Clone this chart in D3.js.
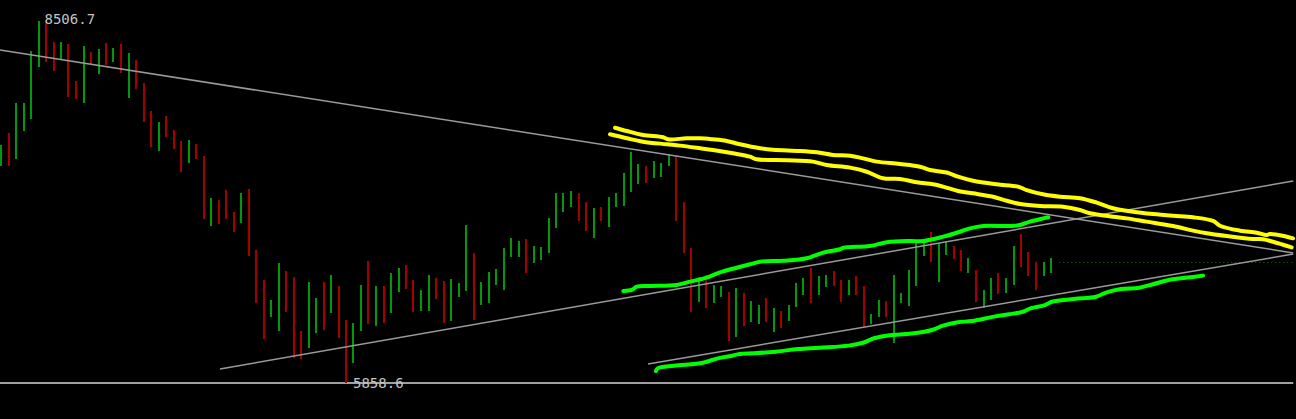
<!DOCTYPE html>
<meta charset="utf-8">
<style>

body {
  margin: 0;
  background: #000;
}

.bars line {
  stroke-width: 2px;
  shape-rendering: crispEdges;
}

.trend line {
  stroke: #9a9a9a;
  stroke-width: 1.5px;
}

.drawn path {
  fill: none;
  stroke-width: 4px;
  stroke-linejoin: round;
  stroke-linecap: round;
}

.label {
  font-family: "DejaVu Sans Mono", monospace;
  font-size: 14px;
  fill: #c4c4c4;
}

</style>


<svg class="chart" width="1296" height="419"></svg>
<script src="https://d3js.org/d3.v7.min.js"></script>
<script>

// bar highs / lows (price), one per session
var highs = [
  7599, 7687, 7907, 7907, 8287, 8506.7, 8492, 8353, 8353, 8338,
  8068, 8324, 8280, 8302, 8346, 8309, 8338, 8272, 8221, 8053,
  7848, 7768, 7812, 7709, 7629, 7636, 7607, 7519, 7212, 7197,
  7270, 7109, 7248, 7278, 6831, 6612, 6465, 6736, 6678, 6634,
  6239, 6597, 6480, 6597, 6648, 6568, 6319, 6297, 6575, 6751,
  6568, 6568, 6663, 6700, 6721, 6612, 6539, 6648, 6626, 6604,
  6619, 6590, 7014, 6809, 6597, 6670, 6692, 6846, 6919, 6897,
  6912, 6860, 6853, 7065, 7248, 7248, 7263, 7248, 7182, 7139,
  7146, 7219, 7248, 7395, 7548, 7460, 7446, 7482, 7468, 7534,
  7526, 7182, 6846, 6634, 6648, 6575, 6568, 6524, 6553, 6517,
  6458, 6429, 6480, 6407, 6385, 6429, 6590, 6626, 6700, 6641,
  6648, 6678, 6612, 6612, 6641, 6568, 6363, 6465, 6458, 6648,
  6517, 6685, 6890, 6890, 6963, 6882, 6890, 6860, 6831, 6773,
  6685, 6539, 6626, 6663, 6626, 6860, 6948, 6817, 6743, 6743, 6773
];

var lows = [
  7446, 7446, 7497, 7702, 7790, 8170, 8207, 8141, 8229, 7951,
  7936, 7907, 8192, 8119, 8185, 8207, 8126, 7943, 8009, 7768,
  7585, 7555, 7658, 7570, 7402, 7468, 7497, 7058, 7007, 7021,
  7058, 6963, 7029, 6787, 6444, 6180, 6341, 6239, 6378, 6041,
  6034, 6114, 6224, 6246, 6370, 6188, 5858.6, 6005, 6239, 6290,
  6275, 6297, 6370, 6524, 6546, 6378, 6385, 6385, 6473, 6297,
  6312, 6487, 6531, 6319, 6429, 6444, 6575, 6539, 6780, 6780,
  6663, 6736, 6758, 6809, 6992, 7109, 7146, 7043, 6970, 6919,
  7043, 7000, 7146, 7153, 7256, 7314, 7321, 7358, 7365, 7446,
  7043, 6809, 6378, 6451, 6407, 6444, 6487, 6166, 6195, 6275,
  6305, 6290, 6305, 6231, 6261, 6312, 6414, 6502, 6444, 6502,
  6561, 6568, 6451, 6502, 6502, 6268, 6290, 6341, 6341, 6151,
  6444, 6422, 6568, 6787, 6743, 6597, 6795, 6765, 6678, 6663,
  6451, 6407, 6465, 6509, 6517, 6575, 6707, 6641, 6539, 6641, 6663
];

// 1 = closed up (green), 0 = closed down (red)
var ups = [
  1,0,1,1,1,1,0,0,1,0, 0,1,0,1,0,1,0,1,0,0,
  0,1,0,0,0,1,0,0,1,0, 0,0,1,0,0,0,1,1,0,0,
  0,1,1,0,1,0,0,1,1,0, 1,0,1,1,0,0,1,1,0,0,
  1,1,1,0,1,1,1,1,1,1, 0,1,1,1,1,1,1,0,0,1,
  0,1,1,1,1,1,0,1,1,1, 0,0,0,1,0,1,1,0,1,0,
  1,1,0,1,0,1,1,1,0,1, 1,0,0,1,0,0,1,1,0,1,
  1,1,1,1,0,1,1,0,0,1, 0,1,1,0,1,1,0,0,0,1,1
];

var lastPrice = 6743;

// trend lines: [bar index, price] endpoints
var descLine  = [[-0.13, 8295], [172.3, 6810]];
var riseLine  = [[29.2, 5961], [172.3, 7336]];
var chanLine  = [[86.27, 5998], [172.3, 6802]];

// hand drawn marker strokes: [bar index, price]
var yellowUpper = [
  [81.87,7726],[83.43,7702],[85.6,7673],[88.27,7656],[88.93,7641],[91.43,7649],
  [93.2,7649],[94.93,7641],[96.76,7629],[98.53,7605],[101.2,7576],[102.93,7565],
  [106.53,7556],[108.76,7546],[110.93,7527],[113.2,7521],[114.93,7502],[116.76,7478],
  [119.87,7461],[122.53,7441],[123.87,7417],[126.09,7398],[127.6,7368],[129.6,7338],
  [132.76,7312],[135.6,7295],[136.76,7270],[138.93,7239],[141.2,7221],[143.87,7210],
  [146.09,7178],[148.27,7137],[150.93,7112],[153.6,7095],[156.27,7082],[158.93,7071],
  [161.6,7044],[162.53,7009],[165.2,6973],[167.43,6958],[168.76,6941],[169.2,6949],
  [171.43,6929],[172.27,6917]
];

var yellowLower = [
  [81.2,7678],[83.43,7649],[85.6,7624],[88.76,7605],[90.53,7595],[93.2,7576],
  [94.93,7563],[97.6,7539],[99.87,7514],[100.76,7495],[104.76,7488],[108.27,7478],
  [110.09,7453],[113.2,7434],[115.43,7404],[117.6,7356],[119.87,7351],[122.09,7327],
  [124.27,7312],[125.6,7295],[127.6,7263],[129.6,7246],[132.27,7221],[134.09,7192],
  [135.87,7168],[138.53,7153],[141.6,7148],[143.87,7124],[145.2,7100],[148.27,7075],
  [150.09,7063],[152.76,7039],[156.27,7007],[158.93,6973],[160.76,6954],[163.43,6934],
  [166.93,6912],[168.27,6910],[169.6,6892],[172.09,6851]
];

var greenUpper = [
  [82.97,6532],[84.09,6539],[84.76,6563],[86.53,6568],[90.09,6576],[91.87,6600],
  [94.09,6629],[95.87,6668],[98.09,6702],[99.87,6727],[101.2,6746],[104.31,6753],
  [107.43,6771],[109.64,6812],[111.87,6837],[112.31,6848],[115.87,6861],[118.09,6888],
  [121.2,6897],[122.97,6897],[125.64,6929],[127.87,6965],[129.2,6990],[130.97,7007],
  [134.53,7007],[135.87,7014],[137.2,7039],[138.97,7063],[139.64,7071]
];

var greenLower = [
  [87.32,5946],[87.56,5966],[89.73,5985],[93.6,6007],[95.56,6039],[97.47,6058],
  [98.47,6071],[100.4,6076],[103.33,6088],[106.23,6107],[109.13,6117],[113.01,6132],
  [114.93,6153],[116.4,6186],[118.8,6210],[121.73,6222],[124.13,6246],[125.6,6278],
  [127.56,6303],[129.47,6312],[132.4,6344],[134.35,6361],[136.27,6380],[137.27,6405],
  [139.2,6429],[140.13,6453],[143.07,6473],[146,6490],[147.44,6522],[149.33,6546],
  [151.8,6556],[153.73,6583],[155.68,6612],[158.6,6632],[160.27,6644]
];


var svg = d3.select(".chart"),
    width = +svg.attr("width"),
    height = +svg.attr("height");

var bars = highs.map(function(h, i) {
  return {i: i, high: h, low: lows[i], up: ups[i] === 1};
});

var maxHigh = d3.max(highs),
    minLow = d3.min(lows),
    rightEdge = 172.3;

var x = d3.scaleLinear().domain([0, bars.length - 1]).range([1, 1051]);
var y = d3.scaleLinear().domain([minLow, maxHigh]).range([383, 21]);

svg.append("rect")
    .attr("width", width)
    .attr("height", height)
    .attr("fill", "#000");

// floor line at lowest low
svg.append("line")
    .attr("x1", 0)
    .attr("x2", x(rightEdge))
    .attr("y1", y(minLow))
    .attr("y2", y(minLow))
    .attr("stroke", "#a0a0a0")
    .attr("stroke-width", 2);

// last price dotted marker
svg.append("line")
    .attr("x1", x(141.1))
    .attr("x2", x(rightEdge))
    .attr("y1", Math.round(y(lastPrice)) + 0.5)
    .attr("y2", Math.round(y(lastPrice)) + 0.5)
    .attr("stroke", "#0a7a0a")
    .attr("stroke-width", 1)
    .attr("stroke-dasharray", "1,3");

svg.append("g")
    .attr("class", "bars")
  .selectAll("line")
  .data(bars)
  .enter().append("line")
    .attr("x1", function(d) { return Math.round(x(d.i)); })
    .attr("x2", function(d) { return Math.round(x(d.i)); })
    .attr("y1", function(d) { return y(d.high); })
    .attr("y2", function(d) { return y(d.low); })
    .attr("stroke", function(d) { return d.up ? "#00990a" : "#a50000"; });

svg.append("g")
    .attr("class", "trend")
  .selectAll("line")
  .data([descLine, riseLine, chanLine])
  .enter().append("line")
    .attr("x1", function(d) { return x(d[0][0]); })
    .attr("y1", function(d) { return y(d[0][1]); })
    .attr("x2", function(d) { return x(d[1][0]); })
    .attr("y2", function(d) { return y(d[1][1]); });

var stroke = d3.line()
    .x(function(d) { return x(d[0]); })
    .y(function(d) { return y(d[1]); })
    .curve(d3.curveCatmullRom.alpha(0.5));

var marks = [
  {pts: yellowUpper, color: "#ffff00"},
  {pts: yellowLower, color: "#ffff00"},
  {pts: greenUpper, color: "#00ff00"},
  {pts: greenLower, color: "#00ff00"}
];

svg.append("g")
    .attr("class", "drawn")
  .selectAll("path")
  .data(marks)
  .enter().append("path")
    .attr("d", function(d) { return stroke(d.pts); })
    .attr("stroke", function(d) { return d.color; });

// extreme labels
var iMax = highs.indexOf(maxHigh),
    iMin = lows.indexOf(minLow);

svg.append("text")
    .attr("class", "label")
    .attr("x", x(iMax) + 6)
    .attr("y", y(maxHigh) + 3)
    .text(maxHigh.toFixed(1));

svg.append("text")
    .attr("class", "label")
    .attr("x", x(iMin) + 7)
    .attr("y", y(minLow) + 4.5)
    .text(minLow.toFixed(1));

</script>
